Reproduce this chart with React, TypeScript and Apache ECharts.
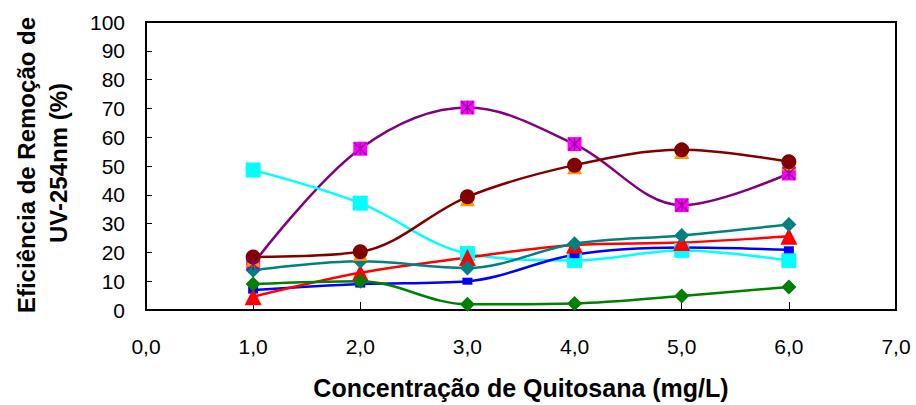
import React, { useEffect, useRef } from "react";
import * as echarts from "echarts";

const xValues = [1, 2, 3, 4, 5, 6];
const magenta = [16, 56, 70.3, 57.6, 36.4, 47.4];
const cyan = [48.6, 37.1, 19.6, 17.2, 20.7, 17.2];
const blue = [6.9, 9.0, 10.0, 19.2, 21.7, 20.9];
const red = [4.6, 12.9, 18.2, 22.6, 23.4, 25.6];
const teal = [13.8, 16.9, 14.6, 23.0, 25.9, 29.7];
const green = [9.0, 10.0, 2.0, 2.3, 4.9, 8.0];
const orange = [17.6, 19.6, 38.6, 49.7, 55.0, 51.0];
const darkRed = [18.4, 20.2, 39.3, 50.3, 55.6, 51.5];

const yTitle1 = "Eficiência de Remoção de";
const yTitle2 = "UV-254nm (%)";
const xTitle = "Concentração de Quitosana (mg/L)";

const FONT = "Liberation Sans, Arial, sans-serif";

function pts(v: number[]) {
  return xValues.map((x, i) => [x, v[i]]);
}

function lineSeries(name: string, data: number[], color: string, symbol: any, size: any, markerColor?: string, lineOpacity = 1) {
  return {
    name,
    type: "line",
    data: pts(data),
    smooth: 0.35,
    symbol,
    symbolSize: size,
    showSymbol: true,
    lineStyle: { color, width: 2.5, opacity: lineOpacity },
    itemStyle: { color: markerColor || color, borderWidth: 0 },
    z: 2,
  };
}

export default function App() {
  const ref = useRef<HTMLDivElement>(null);
  useEffect(() => {
    const chart = echarts.init(ref.current!, null, { renderer: "svg" });
    chart.setOption({
      animation: false,
      backgroundColor: "#fff",
      grid: {
        left: 146,
        right: 20,
        top: 22,
        bottom: 95,
        show: true,
        borderColor: "#000",
        borderWidth: 2,
        backgroundColor: "transparent",
      },
      xAxis: {
        type: "value",
        min: 0,
        max: 7,
        interval: 1,
        axisLine: { show: true, lineStyle: { color: "#000", width: 2 } },
        axisTick: { show: true, inside: true, length: 8, lineStyle: { color: "#000", width: 1 } },
        splitLine: { show: false },
        axisLabel: {
          color: "#000",
          fontSize: 21,
          fontFamily: FONT,
          margin: 26,
          formatter: (v: number) => v.toFixed(1).replace(".", ","),
        },
      },
      yAxis: {
        type: "value",
        min: 0,
        max: 100,
        interval: 10,
        axisLine: { show: true, lineStyle: { color: "#000", width: 2 } },
        axisTick: { show: true, inside: true, length: 6, lineStyle: { color: "#000", width: 1 } },
        splitLine: { show: false },
        axisLabel: { color: "#000", fontSize: 21, fontFamily: FONT, margin: 21 },
      },
      graphic: [
        {
          type: "text",
          x: 26,
          y: 165,
          rotation: Math.PI / 2,
          style: {
            text: yTitle1,
            font: `bold 24px ${FONT}`,
            fill: "#000",
            textAlign: "center",
            textVerticalAlign: "middle",
          },
        },
        {
          type: "text",
          x: 58,
          y: 163,
          rotation: Math.PI / 2,
          style: {
            text: yTitle2,
            font: `bold 24px ${FONT}`,
            fill: "#000",
            textAlign: "center",
            textVerticalAlign: "middle",
          },
        },
        {
          type: "text",
          x: 521,
          y: 388,
          style: {
            text: xTitle,
            font: `bold 25px ${FONT}`,
            fill: "#000",
            textAlign: "center",
            textVerticalAlign: "middle",
          },
        },
      ],
      series: [
        lineSeries("magenta", magenta, "#800080", "rect", 14, "#FF00FF"),
        {
          name: "magenta-x",
          type: "scatter",
          data: pts(magenta),
          symbol: "path://M0,0L10,10M10,0L0,10M5,0L5,10",
          symbolSize: 12,
          itemStyle: { color: "rgba(0,0,0,0)", borderColor: "#800080", borderWidth: 1.5 },
          z: 3,
        },
        lineSeries("cyan", cyan, "#00FFFF", "rect", 15),
        lineSeries("blue", blue, "#0000FF", "rect", [10, 7]),
        lineSeries("red", red, "#FF0000", "triangle", 17),
        lineSeries("teal", teal, "#008080", "diamond", 15),
        lineSeries("green", green, "#008000", "diamond", 15),
        lineSeries("orange", orange, "#FF9900", "triangle", 15, undefined, 0),
        lineSeries("darkred", darkRed, "#800000", "circle", 15),
      ],
    });
    return () => chart.dispose();
  }, []);
  return (
    <div
      ref={ref}
      style={{ position: "fixed", left: 0, top: 0, width: 916, height: 405 }}
    />
  );
}
